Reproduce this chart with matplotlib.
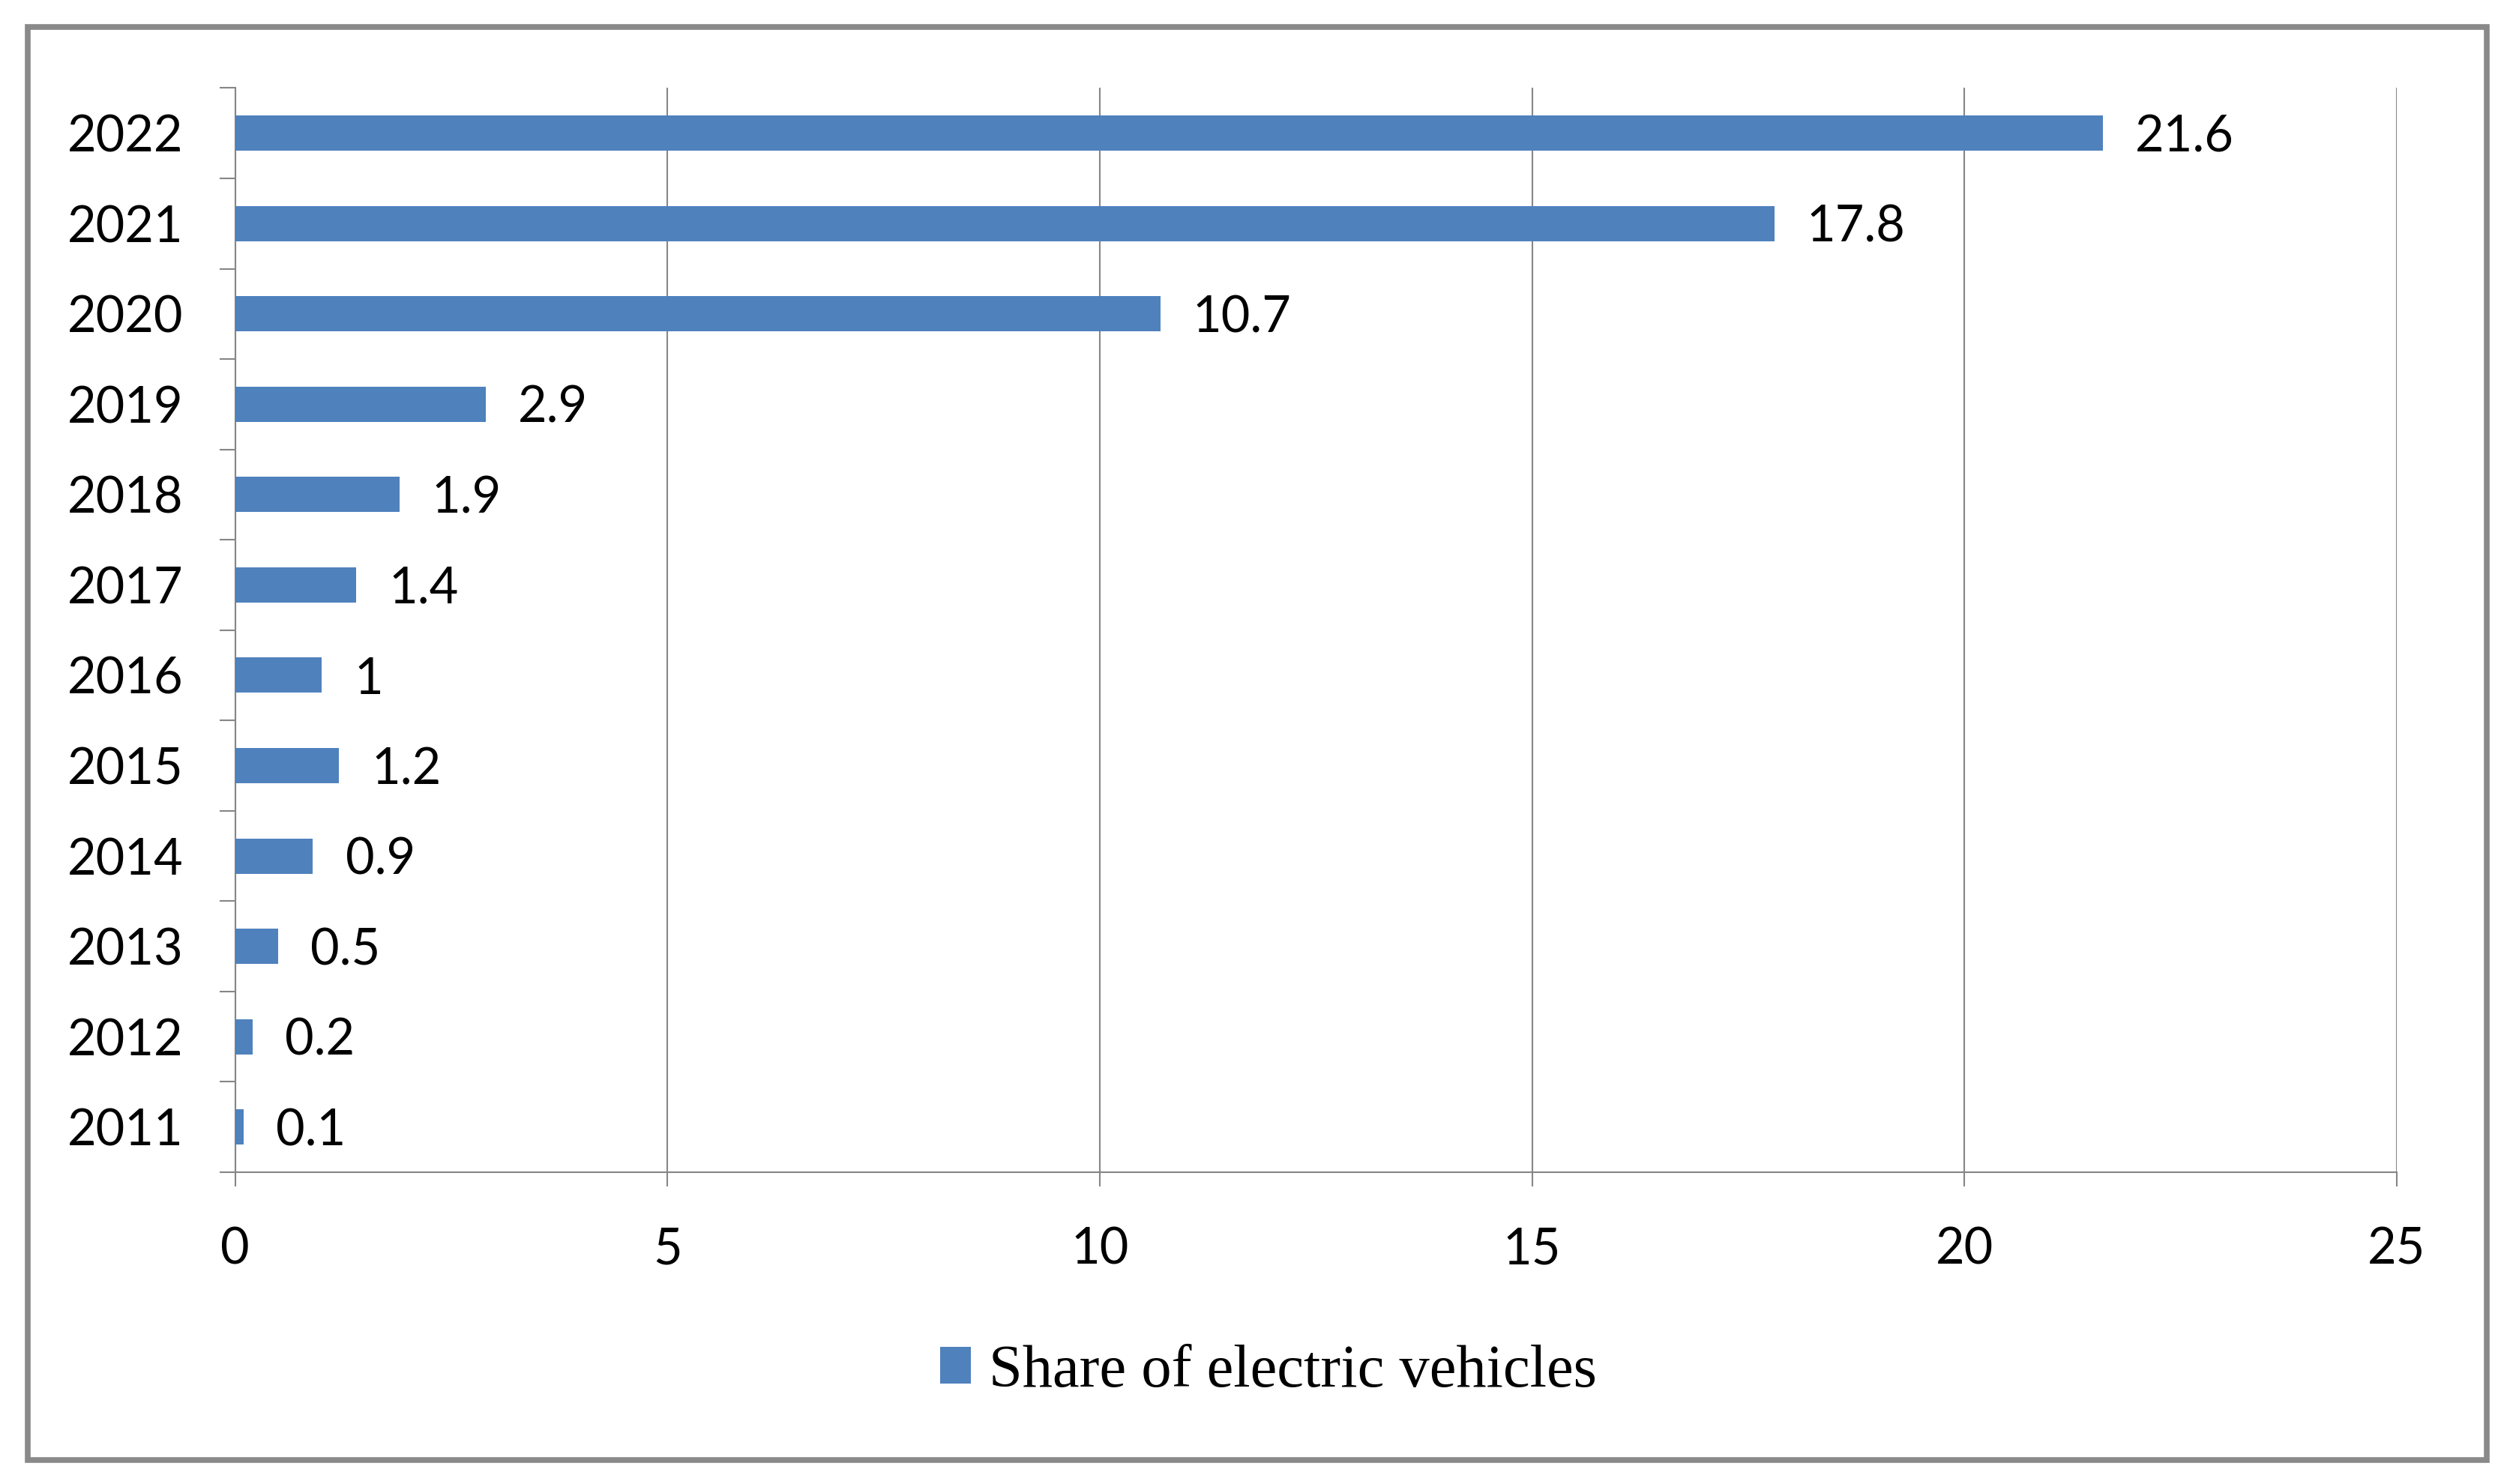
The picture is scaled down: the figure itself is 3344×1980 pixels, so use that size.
# Share of electric vehicles, 2011-2022 (horizontal bars)

import matplotlib
matplotlib.use("Agg")
import matplotlib.pyplot as plt
from matplotlib.patches import Rectangle

years = ["2011", "2012", "2013", "2014", "2015", "2016",
         "2017", "2018", "2019", "2020", "2021", "2022"]
share = [0.1, 0.2, 0.5, 0.9, 1.2, 1, 1.4, 1.9, 2.9, 10.7, 17.8, 21.6]
x_ticks = [0, 5, 10, 15, 20, 25]
series_name = "Share of electric vehicles"

plt.rcParams["font.family"] = ["Lato", "DejaVu Sans"]

grey = "#868686"
blue = "#4F81BD"

fig = plt.figure(figsize=(33.44, 19.80), dpi=100)
ax = fig.add_axes([0.0938, 0.2101, 0.8622, 0.7306])

pos = list(range(len(years)))
bars = ax.barh(pos, share, height=0.39, color=blue, label=series_name, zorder=3)

# value labels at the bar ends (sitting a touch below the bar centre)
for p, v in zip(pos, share):
    ax.annotate("%g" % v, xy=(v, p), xytext=(31, -4), textcoords="offset points",
                va="center", ha="left", fontsize=48, color="black")

ax.set_xlim(0, 25)
ax.set_ylim(-0.5, len(years) - 0.5)
ax.set_xticks(x_ticks)
ax.set_xticklabels([str(t) for t in x_ticks])
ax.set_yticks(pos)
ax.set_yticklabels(years)
ax.set_yticks([p - 0.5 for p in range(len(years) + 1)], minor=True)

ax.tick_params(axis="x", length=14, width=1.5, color=grey, pad=38,
               labelsize=48, labelcolor="black")
ax.tick_params(axis="y", which="major", length=0, pad=50,
               labelsize=48, labelcolor="black")
ax.tick_params(axis="y", which="minor", length=15, width=1.5, color=grey)

ax.grid(axis="x", color=grey, linewidth=1.5, zorder=0)
ax.set_axisbelow(True)
for side in ["top", "right"]:
    ax.spines[side].set_visible(False)
for side in ["left", "bottom"]:
    ax.spines[side].set_color(grey)
    ax.spines[side].set_linewidth(1.5)

fig.legend(handles=[bars], labels=[series_name], loc="center",
           bbox_to_anchor=(0.506, 0.0754), frameon=False,
           prop={"family": ["Liberation Serif", "DejaVu Serif"], "size": 58},
           handlelength=0.5, handleheight=0.55, handletextpad=0.3)

# outer frame around the whole chart
fig.patches.append(Rectangle((0.011, 0.016), 0.981, 0.966,
                             transform=fig.transFigure, fill=False,
                             edgecolor="#898989", linewidth=5.5))

fig.savefig("out.png", dpi=100, facecolor="white")
